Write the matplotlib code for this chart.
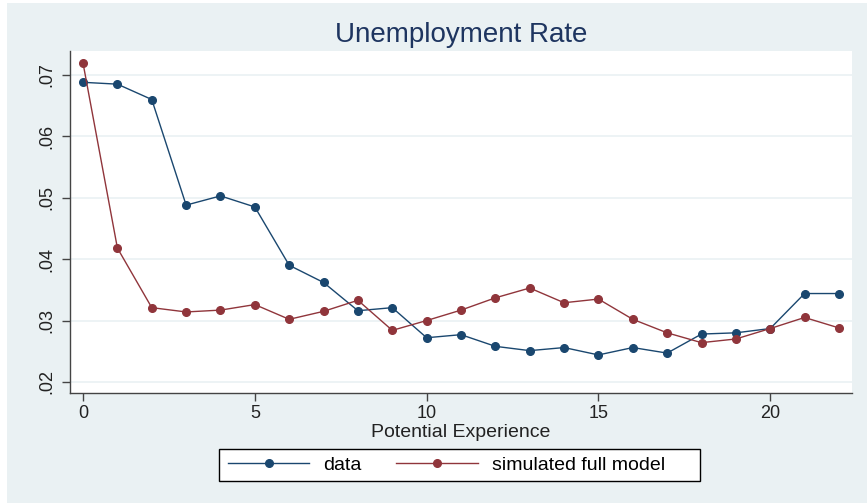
import matplotlib.pyplot as plt
from matplotlib.patches import Rectangle
from matplotlib.ticker import FuncFormatter

plt.rcParams['font.family'] = ['Liberation Sans', 'DejaVu Sans']

# potential experience (years)
experience = list(range(23))

# observed unemployment rate by experience
data_rate = [0.0688, 0.0685, 0.0660, 0.0488, 0.0503, 0.0485, 0.0390, 0.0362,
             0.0316, 0.0321, 0.0272, 0.0277, 0.0258, 0.0251, 0.0256, 0.0244,
             0.0256, 0.0247, 0.0278, 0.0280, 0.0287, 0.0344, 0.0344]

# simulated unemployment rate, full model
sim_rate = [0.0719, 0.0418, 0.0321, 0.0314, 0.0317, 0.0326, 0.0302, 0.0315,
            0.0333, 0.0284, 0.0300, 0.0317, 0.0337, 0.0353, 0.0329, 0.0335,
            0.0302, 0.0280, 0.0264, 0.0270, 0.0287, 0.0305, 0.0288]

y_ticks = [0.02, 0.03, 0.04, 0.05, 0.06, 0.07]
x_ticks = [0, 5, 10, 15, 20]

bg = '#eaf1f3'
navy = '#1a476f'
maroon = '#90353b'

W, H = 867, 503
fig = plt.figure(figsize=(W / 100, H / 100), dpi=100, facecolor='white')
fig.patches.append(Rectangle((7 / W, 0), 1, 1 - 3 / H, transform=fig.transFigure,
                             facecolor=bg, edgecolor='none', zorder=-10))

ax = fig.add_axes([70 / W, 110 / H, 782 / W, 342 / H])
ax.set_facecolor('white')

ax.plot(experience, data_rate, color=navy, lw=1.0, marker='o', ms=5.5,
        label='data', zorder=3)
ax.plot(experience, sim_rate, color=maroon, lw=1.0, marker='o', ms=5.5,
        label='simulated full model', zorder=3)

ax.set_xlim(-0.38, 22.38)
ax.set_ylim(0.0182, 0.0739)
ax.set_xticks(x_ticks)
ax.set_yticks(y_ticks)
ax.yaxis.set_major_formatter(FuncFormatter(lambda v, p: ('%.2f' % v).lstrip('0')))
ax.grid(axis='y', color=bg, lw=1.2)
ax.set_axisbelow(True)

for s in ['top', 'right']:
    ax.spines[s].set_visible(False)
for s in ['left', 'bottom']:
    ax.spines[s].set_color('#444444')
    ax.spines[s].set_linewidth(1.0)

ax.tick_params(axis='both', direction='out', length=5.5, width=1, color='#444444',
               labelsize=13, labelcolor='#222222')
ax.tick_params(axis='y', labelrotation=90, pad=5)
for lbl in ax.get_yticklabels():
    lbl.set_va('center')

ax.set_xlabel('Potential Experience', fontsize=14, color='#222222', labelpad=1)
fig.text(461 / W, 1 - 35 / H, 'Unemployment Rate', ha='center', va='center',
         fontsize=20, color='#1e3560')

# legend box drawn separately so its padding can be set freely
ax.add_patch(Rectangle((219 / W, 1 - 481 / H), 481 / W, 32 / H,
                       transform=fig.transFigure, facecolor='white',
                       edgecolor='black', lw=1.0, zorder=4, clip_on=False))
leg = ax.legend(loc='center left', bbox_to_anchor=(219 / W, 1 - 465 / H),
                bbox_transform=fig.transFigure, ncol=2, frameon=False,
                fontsize=14, handlelength=4.2, columnspacing=1.8,
                borderpad=0.45, borderaxespad=0, handletextpad=0.7)
leg.set_zorder(6)

fig.savefig('out.png', dpi=100, facecolor=fig.get_facecolor())
